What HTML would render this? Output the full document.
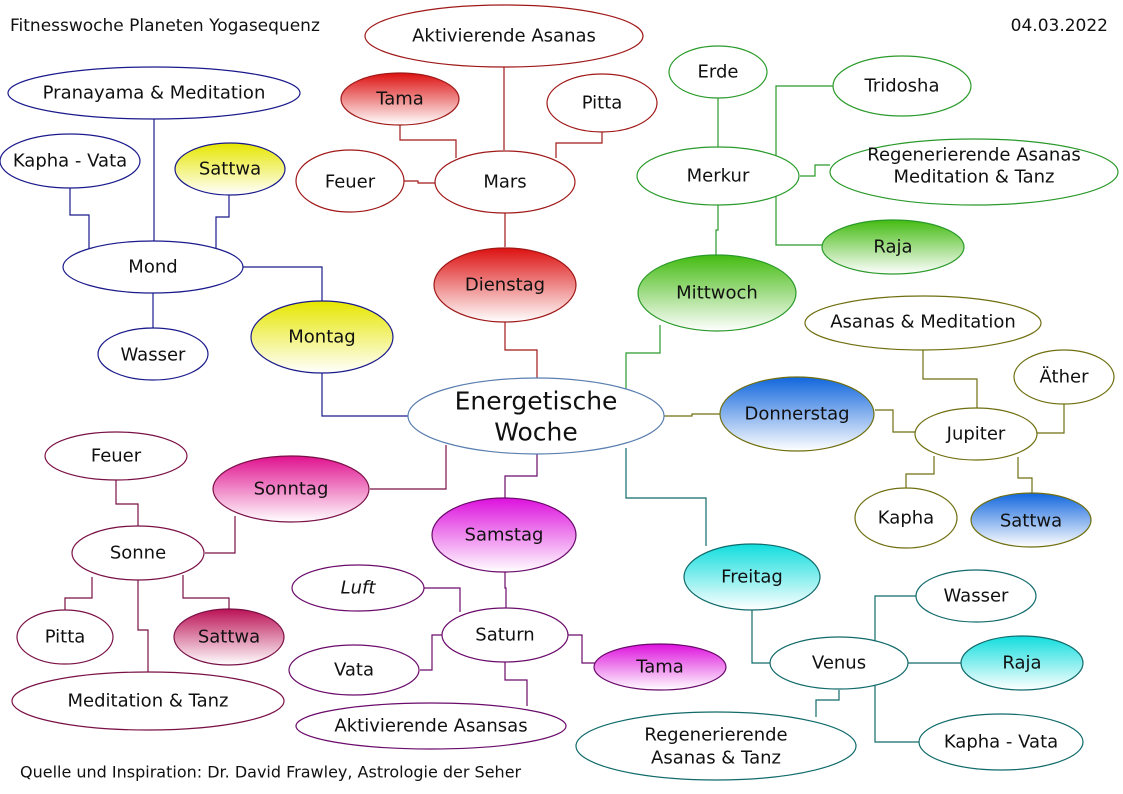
<!DOCTYPE html>
<html><head><meta charset="utf-8"><style>
html,body{margin:0;padding:0;background:#fff}
svg{display:block}
text{font-family:"DejaVu Sans","Liberation Sans",sans-serif;font-size:18px;fill:#111;text-anchor:middle;dominant-baseline:central}
</style></head><body>
<svg width="1123" height="794" viewBox="0 0 1123 794" xmlns="http://www.w3.org/2000/svg">
<defs>
<linearGradient id="gy" x1="0" y1="0" x2="0" y2="1"><stop offset="0" stop-color="#e6e600"/><stop offset="1" stop-color="#fff"/></linearGradient>
<linearGradient id="gr" x1="0" y1="0" x2="0" y2="1"><stop offset="0" stop-color="#dd1111"/><stop offset="1" stop-color="#fff"/></linearGradient>
<linearGradient id="gg" x1="0" y1="0" x2="0" y2="1"><stop offset="0" stop-color="#44bb11"/><stop offset="1" stop-color="#fff"/></linearGradient>
<linearGradient id="gb" x1="0" y1="0" x2="0" y2="1"><stop offset="0" stop-color="#1166dd"/><stop offset="1" stop-color="#fff"/></linearGradient>
<linearGradient id="gc" x1="0" y1="0" x2="0" y2="1"><stop offset="0" stop-color="#11dddd"/><stop offset="1" stop-color="#fff"/></linearGradient>
<linearGradient id="gm" x1="0" y1="0" x2="0" y2="1"><stop offset="0" stop-color="#dd11dd"/><stop offset="1" stop-color="#fff"/></linearGradient>
<linearGradient id="gp" x1="0" y1="0" x2="0" y2="1"><stop offset="0" stop-color="#e0118f"/><stop offset="1" stop-color="#fff"/></linearGradient>
<linearGradient id="gd" x1="0" y1="0" x2="0" y2="1"><stop offset="0" stop-color="#bb1155"/><stop offset="1" stop-color="#fff"/></linearGradient>
</defs>
<g fill="none" stroke-width="1.2">
<g stroke="#1a1a8c">
<polyline points="154,118 154,241"/>
<polyline points="153,293 153,328"/>
<polyline points="70,188 70,215 89,215 89,250"/>
<polyline points="229,195 229,217 216,217 216,250"/>
<polyline points="243,267 322,267 322,301"/>
<polyline points="322,372 322,416 410,416"/>
</g>
<g stroke="#a01818">
<polyline points="504,66 504,150"/>
<polyline points="400,125 400,140 456,140 456,158"/>
<polyline points="602,132 602,143 556,143 556,158"/>
<polyline points="404,181 418,181 418,183 435,183"/>
<polyline points="505,213 505,247"/>
<polyline points="505,322 505,350 537,350 537,378"/>
</g>
<g stroke="#2a9a2a">
<polyline points="833,86 776,86 776,245 822,245"/>
<polyline points="830,165 815,165 815,176 800,176"/>
<polyline points="718,98 718,147"/>
<polyline points="718,205 718,230 716,230 716,255"/>
<polyline points="660,325 660,353 626,353 626,390"/>
</g>
<g stroke="#6f6f10">
<polyline points="664,416 692,416 692,414 720,414"/>
<polyline points="875,410 893,410 893,432 915,432"/>
<polyline points="923,350 923,379 977,379 977,408"/>
<polyline points="1064,404 1064,433 1037,433"/>
<polyline points="934,456 934,474 906,474 906,488"/>
<polyline points="1018,457 1018,478 1032,478 1032,493"/>
</g>
<g stroke="#106a6a">
<polyline points="626,448 626,498 706,498 706,546"/>
<polyline points="752,610 752,663 770,663"/>
<polyline points="917,596 875,596 875,742 919,742"/>
<polyline points="908,663 961,663"/>
<polyline points="839,690 839,700 816,700 816,717"/>
</g>
<g stroke="#6a0a6a">
<polyline points="537,454 537,476 505,476 505,498"/>
<polyline points="505,571 505,588 506,588 506,608"/>
<polyline points="424,588 460,588 460,612"/>
<polyline points="442,635 432,635 432,670 420,670"/>
<polyline points="568,635 582,635 582,663 596,663"/>
<polyline points="505,660 505,680 527,680 527,706"/>
</g>
<g stroke="#7a1046">
<polyline points="446,445 446,489 370,489"/>
<polyline points="235,516 235,553 205,553"/>
<polyline points="116,480 116,504 138,504 138,527"/>
<polyline points="92,577 92,598 65,598 65,611"/>
<polyline points="138,580 138,630 148,630 148,673"/>
<polyline points="183,575 183,598 229,598 229,609"/>
</g>
</g>
<g stroke-width="1.2">
<g stroke="#1a1a8c" fill="#fff">
<ellipse cx="154" cy="93" rx="146" ry="26"/>
<ellipse cx="70" cy="161" rx="70" ry="27"/>
<ellipse cx="230" cy="169" rx="55" ry="26" fill="url(#gy)"/>
<ellipse cx="153" cy="267" rx="90" ry="26"/>
<ellipse cx="153" cy="354" rx="55" ry="26"/>
<ellipse cx="322" cy="337" rx="71" ry="36" fill="url(#gy)"/>
</g>
<ellipse cx="536" cy="416" rx="128" ry="38" fill="#fff" stroke="#5a7fb0"/>
<g stroke="#a01818" fill="#fff">
<ellipse cx="504" cy="36" rx="139" ry="31"/>
<ellipse cx="400" cy="99" rx="59" ry="26" fill="url(#gr)"/>
<ellipse cx="602" cy="103" rx="55" ry="29"/>
<ellipse cx="350" cy="181" rx="54" ry="31"/>
<ellipse cx="505" cy="182" rx="70" ry="31"/>
<ellipse cx="505" cy="285" rx="71" ry="37" fill="url(#gr)"/>
</g>
<g stroke="#2a9a2a" fill="#fff">
<ellipse cx="718" cy="72" rx="49" ry="26"/>
<ellipse cx="902" cy="86" rx="69" ry="30"/>
<ellipse cx="974" cy="172" rx="144" ry="33"/>
<ellipse cx="718" cy="176" rx="81" ry="29"/>
<ellipse cx="893" cy="247" rx="71" ry="27" fill="url(#gg)"/>
<ellipse cx="717" cy="293" rx="79" ry="38" fill="url(#gg)"/>
</g>
<g stroke="#6f6f10" fill="#fff">
<ellipse cx="923" cy="323" rx="118" ry="27"/>
<ellipse cx="1064" cy="377" rx="50" ry="27"/>
<ellipse cx="797" cy="414" rx="77" ry="37" fill="url(#gb)"/>
<ellipse cx="976" cy="434" rx="61" ry="26"/>
<ellipse cx="906" cy="518" rx="51" ry="30"/>
<ellipse cx="1031" cy="520" rx="60" ry="27" fill="url(#gb)"/>
</g>
<g stroke="#106a6a" fill="#fff">
<ellipse cx="752" cy="577" rx="68" ry="33" fill="url(#gc)"/>
<ellipse cx="976" cy="596" rx="60" ry="26"/>
<ellipse cx="839" cy="663" rx="69" ry="26"/>
<ellipse cx="1022" cy="663" rx="61" ry="27" fill="url(#gc)"/>
<ellipse cx="716" cy="746" rx="140" ry="34"/>
<ellipse cx="1001" cy="742" rx="82" ry="28"/>
</g>
<g stroke="#6a0a6a" fill="#fff">
<ellipse cx="504" cy="535" rx="72" ry="37" fill="url(#gm)"/>
<ellipse cx="358" cy="588" rx="66" ry="23"/>
<ellipse cx="505" cy="635" rx="63" ry="27"/>
<ellipse cx="354" cy="670" rx="65" ry="25"/>
<ellipse cx="660" cy="667" rx="66" ry="23" fill="url(#gm)"/>
<ellipse cx="431" cy="726" rx="135" ry="23"/>
</g>
<g stroke="#7a1046" fill="#fff">
<ellipse cx="116" cy="456" rx="71" ry="24"/>
<ellipse cx="291" cy="489" rx="78" ry="33" fill="url(#gp)"/>
<ellipse cx="138" cy="553" rx="66" ry="27"/>
<ellipse cx="65" cy="637" rx="48" ry="27"/>
<ellipse cx="229" cy="637" rx="55" ry="28" fill="url(#gd)"/>
<ellipse cx="148" cy="701" rx="136" ry="29"/>
</g>
</g>
<text x="10" y="26" style="text-anchor:start;font-size:17px">Fitnesswoche Planeten Yogasequenz</text>
<text x="1108" y="26" style="text-anchor:end;font-size:17px">04.03.2022</text>
<text x="20" y="772" style="text-anchor:start;font-size:16px">Quelle und Inspiration: Dr. David Frawley, Astrologie der Seher</text>

<text x="154" y="93">Pranayama &amp; Meditation</text>
<text x="70" y="161">Kapha - Vata</text>
<text x="230" y="169">Sattwa</text>
<text x="153" y="267">Mond</text>
<text x="153" y="355">Wasser</text>
<text x="322" y="337">Montag</text>
<text x="536" y="401" style="font-size:25px">Energetische</text>
<text x="536" y="432" style="font-size:25px">Woche</text>
<text x="504" y="36">Aktivierende Asanas</text>
<text x="400" y="99">Tama</text>
<text x="602" y="103">Pitta</text>
<text x="350" y="182">Feuer</text>
<text x="505" y="182">Mars</text>
<text x="505" y="285">Dienstag</text>
<text x="718" y="72">Erde</text>
<text x="902" y="86">Tridosha</text>
<text x="974" y="155">Regenerierende Asanas</text>
<text x="974" y="177">Meditation &amp; Tanz</text>
<text x="718" y="176">Merkur</text>
<text x="893" y="247">Raja</text>
<text x="717" y="293">Mittwoch</text>
<text x="923" y="322">Asanas &amp; Meditation</text>
<text x="1064" y="377">Äther</text>
<text x="797" y="414">Donnerstag</text>
<text x="976" y="434">Jupiter</text>
<text x="906" y="518">Kapha</text>
<text x="1031" y="521">Sattwa</text>
<text x="752" y="577">Freitag</text>
<text x="976" y="596">Wasser</text>
<text x="839" y="663">Venus</text>
<text x="1022" y="663">Raja</text>
<text x="716" y="735">Regenerierende</text>
<text x="716" y="758">Asanas &amp; Tanz</text>
<text x="1001" y="742">Kapha - Vata</text>
<text x="504" y="535">Samstag</text>
<text x="358" y="588" style="font-style:italic">Luft</text>
<text x="505" y="635">Saturn</text>
<text x="354" y="670">Vata</text>
<text x="660" y="667">Tama</text>
<text x="431" y="726">Aktivierende Asansas</text>
<text x="116" y="456">Feuer</text>
<text x="291" y="489">Sonntag</text>
<text x="138" y="553">Sonne</text>
<text x="65" y="637">Pitta</text>
<text x="229" y="637">Sattwa</text>
<text x="148" y="701">Meditation &amp; Tanz</text>
</svg>
</body></html>
